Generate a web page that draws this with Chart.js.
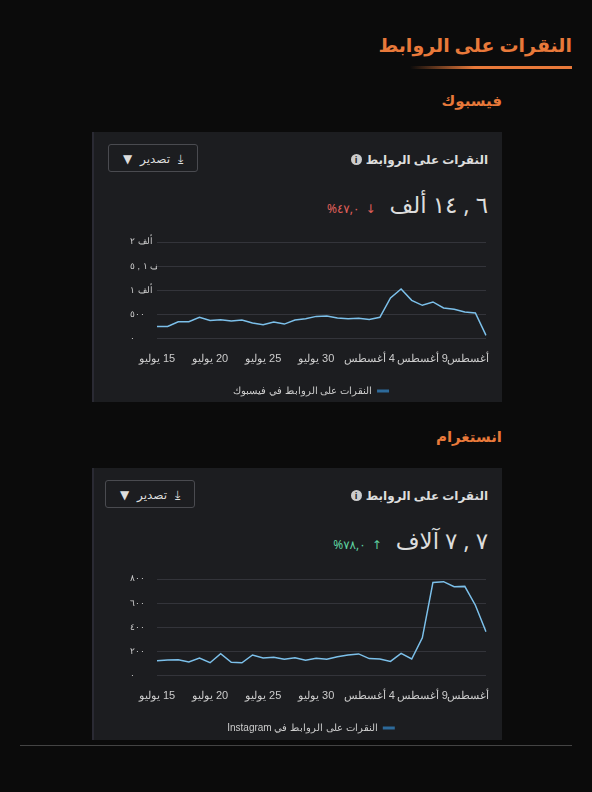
<!DOCTYPE html>
<html><head><meta charset="utf-8">
<script src="https://cdn.jsdelivr.net/npm/chart.js@4"></script>
<style>
body{margin:0;background:#0b0b0b;width:592px;height:792px;position:relative;overflow:hidden;font-family:"Noto Sans","DejaVu Sans",sans-serif;color:#ddd}
.abs{position:absolute}
.h1{right:20px;top:32px;color:#e8793a;font-weight:bold;font-size:19px}
.uline{left:410px;width:162px;top:66px;height:3px;background:linear-gradient(90deg,#0b0b0b,#e8793a 40%,#e8793a)}
.h2{right:90px;color:#e8793a;font-weight:bold;font-size:15px}
.card{left:92px;width:408px;background:#1c1d20;border-left:2px solid #2a2a33}
.ct{right:14px;font-weight:bold;font-size:12px;color:#ddd;display:flex;gap:4px;align-items:center}
.info{display:inline-block;width:11px;height:11px;border-radius:50%;background:#ccc;color:#1c1d20;font-size:9px;line-height:11px;text-align:center;font-weight:bold}
.btn{left:14px;width:90px;height:28px;border:1px solid #4a4b50;border-radius:3px;box-sizing:border-box;font-size:12px;color:#ddd;display:flex;align-items:center;justify-content:center;gap:8px}
.big{right:14px;display:flex;direction:ltr;align-items:baseline;gap:6px;font-size:23px;color:#ddd}
.pct{font-size:12px;display:flex;gap:6px;margin-right:8px}
.cv{left:130px;width:362px;height:172px}
</style></head><body>
<div class="abs h1">النقرات على الروابط</div>
<div class="abs uline"></div>
<div class="abs h2" style="top:90px">فيسبوك</div>
<div class="abs card" style="top:132px;height:270px">
  <div class="abs btn" style="top:12px"><span>▼</span><span>تصدير</span><span>⤓</span></div>
  <div class="abs ct" style="top:19px"><span class="info">i</span><span>النقرات على الروابط</span></div>
  <div class="abs big" style="top:56px"><span class="pct" style="color:#e0605a"><span>%٤٧,٠</span><span>↓</span></span><span>ألف</span><span>١٤</span><span>,</span><span>٦</span></div>
</div>
<div class="abs cv" style="top:234px"><canvas id="fb"></canvas></div>
<div class="abs h2" style="top:426px">انستغرام</div>
<div class="abs card" style="top:468px;height:272px">
  <div class="abs btn" style="top:12px;left:11px"><span>▼</span><span>تصدير</span><span>⤓</span></div>
  <div class="abs ct" style="top:19px"><span class="info">i</span><span>النقرات على الروابط</span></div>
  <div class="abs big" style="top:56px"><span class="pct" style="color:#5fd3a0"><span>%٧٨,٠</span><span>↑</span></span><span>آلاف</span><span>٧</span><span>,</span><span>٧</span></div>
</div>
<div class="abs cv" style="top:571px"><canvas id="ig"></canvas></div>
<div class="abs" style="left:20px;width:552px;top:745px;height:1px;background:#444"></div>
<script>
const dates = ['15 يوليو','16 يوليو','17 يوليو','18 يوليو','19 يوليو','20 يوليو','21 يوليو','22 يوليو','23 يوليو','24 يوليو','25 يوليو','26 يوليو','27 يوليو','28 يوليو','29 يوليو','30 يوليو','31 يوليو',
  '1 أغسطس','2 أغسطس','3 أغسطس','4 أغسطس','5 أغسطس','6 أغسطس','7 أغسطس','8 أغسطس','9 أغسطس','10 أغسطس','11 أغسطس','12 أغسطس','13 أغسطس','14 أغسطس','15 أغسطس'];
const facebookClicks = [256,256,353,353,443,380,394,367,387,325,290,346,304,387,415,463,470,429,415,422,400,443,844,1030,795,692,761,636,609,553,532,70];
const instagramClicks = [125,131,133,114,147,108,183,111,108,172,147,153,136,150,128,144,136,158,172,181,142,139,119,186,139,314,772,778,736,739,583,364];
const fbTicks = {0:'٠',500:'٥٠٠',1000:'ألف\u200E ١',1500:'ألف\u200E ١\u200E , ٥',2000:'ألف\u200E ٢'};
const igTicks = {0:'٠',200:'٢٠٠',400:'٤٠٠',600:'٦٠٠',800:'٨٠٠'};

function makeChart(id, label, data, max, step, tickMap) {
  new Chart(document.getElementById(id), {
    type: 'line',
    data: { labels: dates, datasets: [{ label, data, borderColor: '#7cc0ea', backgroundColor: '#2d6a9a', borderWidth: 1.5, pointRadius: 0, tension: 0 }] },
    options: {
      animation: false, responsive: true, maintainAspectRatio: false,
      layout: { padding: { top: 8, right: 0 } },
      scales: {
        x: { grid: { display: false }, border: { display: false },
             ticks: { autoSkip: false, maxRotation: 0, color: '#ccc', font: { size: 11 }, padding: 6,
                      callback: (v, i) => i % 5 === 0 ? '\u200F' + dates[i] : '' } },
        y: { min: 0, max, grid: { color: '#33343a', drawTicks: false }, border: { display: false },
             afterFit: s => { s.width = 27; },
             ticks: { stepSize: step, color: '#ccc', font: { size: 9 }, crossAlign: 'far', padding: 2,
                      callback: v => tickMap[v] } }
      },
      plugins: {
        legend: { position: 'bottom', rtl: true, textDirection: 'rtl',
                  labels: { color: '#ccc', font: { size: 10 }, boxWidth: 12, boxHeight: 3, padding: 14,
                            generateLabels: c => Chart.defaults.plugins.legend.labels.generateLabels(c)
                              .map(l => Object.assign(l, { lineWidth: 0, fillStyle: '#2d6a9a' })) } },
        tooltip: { enabled: false }
      }
    }
  });
}
makeChart('fb', 'النقرات على الروابط في فيسبوك', facebookClicks, 2000, 500, fbTicks);
makeChart('ig', 'النقرات على الروابط في Instagram', instagramClicks, 800, 200, igTicks);
</script>
</body></html>
